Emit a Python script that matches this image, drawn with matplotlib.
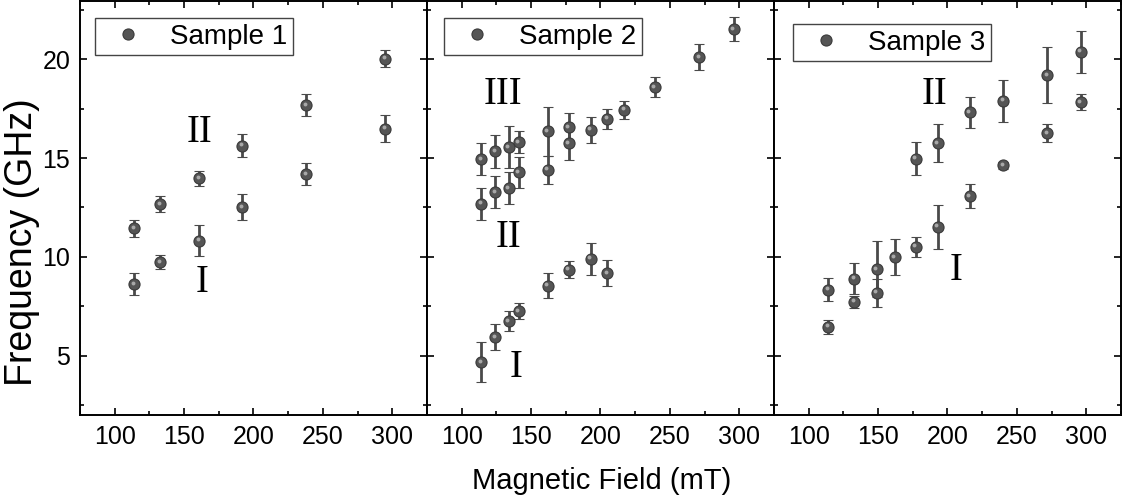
import matplotlib
matplotlib.use("Agg")
import matplotlib.pyplot as plt
from matplotlib.ticker import MultipleLocator
from matplotlib.transforms import offset_copy
from matplotlib.lines import Line2D

plt.rcParams['font.family'] = ['Liberation Sans', 'DejaVu Sans']

# Sample 1
s1_x = [114, 133, 161, 192, 238, 295]
s1_I = [8.62, 9.73, 10.82, 12.51, 14.18, 16.48]
s1_I_err = [0.57, 0.35, 0.77, 0.65, 0.56, 0.69]
s1_II = [11.45, 12.68, 13.97, 15.62, 17.68, 20.03]
s1_II_err = [0.42, 0.42, 0.40, 0.58, 0.57, 0.44]

# Sample 2
s2_x_III = [114, 124, 134, 141, 162, 177, 193, 205, 217, 239, 271, 296]
s2_III = [14.95, 15.34, 15.54, 15.81, 16.35, 16.57, 16.43, 16.99, 17.44, 18.59, 20.10, 21.52]
s2_III_err = [0.80, 0.84, 1.06, 0.55, 1.26, 0.70, 0.66, 0.51, 0.45, 0.52, 0.66, 0.61]
s2_x_II = [114, 124, 134, 141, 162, 177]
s2_II = [12.69, 13.28, 13.48, 14.28, 14.41, 15.76]
s2_II_err = [0.80, 0.82, 0.80, 0.80, 0.70, 0.84]
s2_x_I = [114, 124, 134, 141, 162, 177, 193, 205]
s2_I = [4.68, 5.94, 6.75, 7.26, 8.55, 9.36, 9.90, 9.19]
s2_I_err = [1.01, 0.67, 0.52, 0.40, 0.61, 0.44, 0.80, 0.66]

# Sample 3
s3_x_I = [114, 133, 149, 162, 177, 193, 216, 240, 272, 296]
s3_I = [6.46, 7.73, 8.18, 10.00, 10.51, 11.52, 13.06, 14.63, 16.26, 17.83]
s3_I_err = [0.36, 0.31, 0.71, 0.91, 0.51, 1.10, 0.61, 0.17, 0.45, 0.42]
s3_x_II = [114, 133, 149, 177, 193, 216, 240, 272, 296]
s3_II = [8.35, 8.89, 9.39, 14.97, 15.76, 17.31, 17.90, 19.21, 20.39]
s3_II_err = [0.59, 0.78, 1.40, 0.82, 0.98, 0.80, 1.06, 1.40, 1.06]

panels = [
    ("Sample 1", [(s1_x, s1_I, s1_I_err), (s1_x, s1_II, s1_II_err)],
     [("II", 161, 16.3), ("I", 163, 8.7)], (0.043, 0.959)),
    ("Sample 2", [(s2_x_I, s2_I, s2_I_err), (s2_x_II, s2_II, s2_II_err), (s2_x_III, s2_III, s2_III_err)],
     [("III", 130, 18.2), ("II", 134, 11.0), ("I", 139, 4.4)], (0.049, 0.959)),
    ("Sample 3", [(s3_x_I, s3_I, s3_I_err), (s3_x_II, s3_II, s3_II_err)],
     [("II", 191, 18.2), ("I", 206, 9.3)], (0.055, 0.944)),
]

fig = plt.figure(figsize=(11.25, 5.01), dpi=100)
left, right, bottom, top = 0.0711, 0.9964, 0.1717, 0.998
w = (right - left) / 3

for i, (name, branches, labels, legpos) in enumerate(panels):
    ax = fig.add_axes([left + i * w, bottom, w, top - bottom])
    hl = offset_copy(ax.transData, fig=fig, x=-1.0, y=1.0, units='points')
    for bx, by, be in branches:
        ax.errorbar(bx, by, yerr=be, fmt='o', ms=8, mfc='#555555', mec='#3a3a3a', mew=0.8,
                    ecolor='#4a4a4a', elinewidth=2.0, capsize=3.5, capthick=2.0, zorder=3)
        ax.plot(bx, by, 'o', ms=2.8, color='#a8a8a8', mec='none', transform=hl, zorder=4)
    for txt, tx, ty in labels:
        ax.text(tx, ty, txt, family='Liberation Serif', fontsize=28, ha='center', va='center')
    ax.set_xlim(75, 325)
    ax.set_ylim(2.0, 22.95)
    ax.xaxis.set_major_locator(MultipleLocator(50))
    ax.xaxis.set_minor_locator(MultipleLocator(25))
    ax.yaxis.set_major_locator(MultipleLocator(5))
    ax.yaxis.set_minor_locator(MultipleLocator(2.5))
    ax.tick_params(which='both', direction='in', top=True, right=True, width=1.2, labelsize=18)
    ax.tick_params(which='major', length=5, pad=7)
    ax.tick_params(which='minor', length=3)
    if i > 0:
        ax.tick_params(labelleft=False)
    for sp in ax.spines.values():
        sp.set_linewidth(1.4)
    handle = Line2D([], [], ls='none', marker='o', ms=8, mfc='#555555', mec='#3a3a3a', mew=0.8)
    leg = ax.legend([handle], [name], loc='upper left', bbox_to_anchor=legpos, borderaxespad=0,
                    fancybox=False, fontsize=20, handlelength=2.0, handletextpad=0.5,
                    borderpad=0.2, framealpha=1, edgecolor='#444444')
    leg.get_frame().set_linewidth(1.0)

fig.text(0.535, 0.04, "Magnetic Field (mT)", fontsize=21, ha='center', va='center')
fig.text(0.02, 0.517, "Frequency (GHz)", fontsize=27, rotation=90, ha='center', va='center')

fig.savefig("out.png", dpi=100)
